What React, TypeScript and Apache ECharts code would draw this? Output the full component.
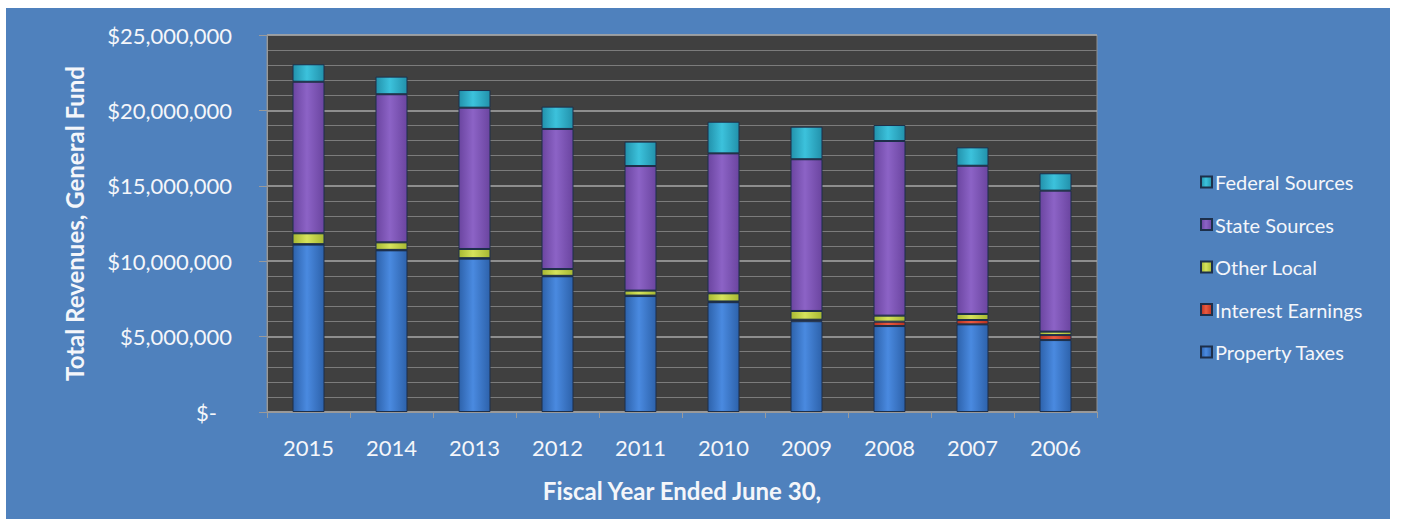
import React, { useEffect, useRef } from "react";
import * as echarts from "echarts";

const years = ["2015", "2014", "2013", "2012", "2011", "2010", "2009", "2008", "2007", "2006"];
const propertyTaxes = [11100000, 10720000, 10170000, 9000000, 7690000, 7280000, 6020000, 5700000, 5810000, 4770000];
const interestEarnings = [30000, 30000, 30000, 30000, 30000, 50000, 100000, 290000, 290000, 330000];
const otherLocal = [720000, 500000, 610000, 450000, 330000, 540000, 580000, 400000, 400000, 230000];
const stateSources = [10050000, 9820000, 9370000, 9290000, 8260000, 9280000, 10060000, 11580000, 9830000, 9350000];
const federalSources = [1160000, 1170000, 1170000, 1480000, 1620000, 2100000, 2160000, 1060000, 1220000, 1150000];

const FONT = "Lato, 'Open Sans', sans-serif";
const TXT = "#F4F6FA";

function grad(edge: string, mid: string) {
  return new echarts.graphic.LinearGradient(0, 0, 1, 0, [
    { offset: 0, color: edge },
    { offset: 0.45, color: mid },
    { offset: 1, color: edge },
  ]);
}

export default function App() {
  const ref = useRef<HTMLDivElement>(null);
  useEffect(() => {
    if (!ref.current) return;
    const chart = echarts.init(ref.current, null, { renderer: "svg" });
    const mk = (name: string, data: number[], edge: string, mid: string) => ({
      name,
      type: "bar",
      stack: "total",
      data,
      barWidth: 32,
      itemStyle: { color: grad(edge, mid), borderColor: "#1d2f4a", borderWidth: 1 },
    });
    chart.setOption({
      animation: false,
      backgroundColor: "#4F81BD",
      textStyle: { fontFamily: FONT },
      grid: {
        left: 261,
        top: 27,
        width: 830,
        height: 377,
        show: true,
        backgroundColor: "#404040",
        borderColor: "#8f8f8f",
        borderWidth: 1,
      },
      legend: {
        orient: "vertical",
        left: 1189,
        top: 158,
        itemWidth: 11,
        itemHeight: 11,
        itemGap: 20.5,
        icon: "rect",
        data: ["Federal Sources", "State Sources", "Other Local", "Interest Earnings", "Property Taxes"],
        textStyle: { color: TXT, fontSize: 20, lineHeight: 22, fontFamily: FONT, padding: [0, 0, 0, -2] },
      },
      xAxis: {
        type: "category",
        data: years,
        name: "Fiscal Year Ended June 30,",
        nameLocation: "middle",
        nameGap: 66,
        nameTextStyle: { color: TXT, fontSize: 24, fontWeight: "bold", fontFamily: FONT },
        axisLine: { show: true, lineStyle: { color: "#9a9a9a", width: 1 } },
        axisTick: { show: true, length: 6, lineStyle: { color: "#9a9a9a" } },
        axisLabel: { color: TXT, fontSize: 22, margin: 24, fontFamily: FONT },
      },
      yAxis: {
        type: "value",
        min: 0,
        max: 25000000,
        interval: 5000000,
        name: "Total Revenues, General Fund",
        nameLocation: "middle",
        nameGap: 181,
        nameTextStyle: { color: TXT, fontSize: 24, fontWeight: "bold", fontFamily: FONT },
        axisLine: { show: true, lineStyle: { color: "#9a9a9a" } },
        axisTick: { show: true, length: 8, lineStyle: { color: "#9a9a9a" } },
        axisLabel: {
          color: TXT,
          fontSize: 22,
          margin: 35,
          fontFamily: FONT,
          formatter: (v: number) => (v === 0 ? "{z|$-}" : "$" + v.toLocaleString("en-US")),
          rich: { z: { color: TXT, fontSize: 22, fontFamily: FONT, padding: [0, 15, 0, 0] } },
        },
        splitLine: { show: true, lineStyle: { color: "#a8a8a8", width: 1.5 } },
        minorTick: { show: false, splitNumber: 5 },
        minorSplitLine: { show: true, lineStyle: { color: "#7c7c7c", width: 1.2 } },
      },
      series: [
        mk("Property Taxes", propertyTaxes, "#2d62ab", "#4a8ae0"),
        mk("Interest Earnings", interestEarnings, "#b8321f", "#ec5a40"),
        mk("Other Local", otherLocal, "#a7b832", "#d6e35c"),
        mk("State Sources", stateSources, "#6b45a0", "#8c63c6"),
        mk("Federal Sources", federalSources, "#2291ab", "#3cc2dc"),
      ],
    });
    return () => chart.dispose();
  }, []);
  return (
    <div style={{ position: "absolute", left: 0, top: 0, width: 1401, height: 519, background: "#ffffff", overflow: "hidden" }}>
      <div ref={ref} style={{ position: "absolute", left: 6, top: 8, width: 1384, height: 511 }} />
    </div>
  );
}
